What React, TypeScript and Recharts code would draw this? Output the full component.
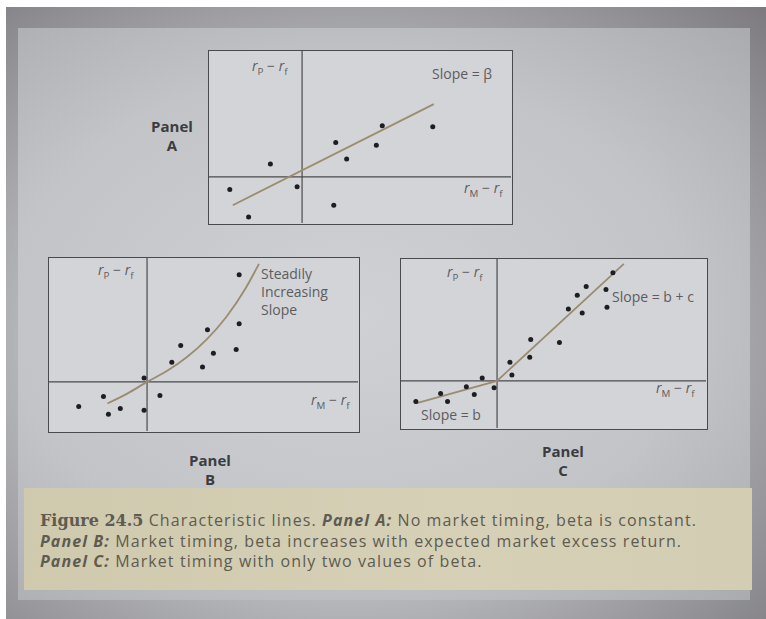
import React from "react"
import { ComposedChart, Scatter, Line, XAxis, YAxis, ReferenceLine } from "recharts"

type Pt = { x: number; y: number }

// Panel A: no market timing, constant beta
const dotsA: Pt[] = [
  { x: -7.3, y: -1.3 },
  { x: -5.4, y: -4.1 },
  { x: -3.2, y: 1.3 },
  { x: -0.5, y: -1.0 },
  { x: 3.2, y: -2.9 },
  { x: 3.4, y: 3.5 },
  { x: 4.5, y: 1.8 },
  { x: 7.5, y: 3.2 },
  { x: 8.1, y: 5.2 },
  { x: 13.2, y: 5.1 },
]
const lineA: Pt[] = [
  { x: -7.0, y: -2.9 },
  { x: 13.3, y: 7.4 },
]

// Panel B: beta rises with market excess return
const dotsB: Pt[] = [
  { x: -6.9, y: -2.5 },
  { x: -4.4, y: -1.5 },
  { x: -3.9, y: -3.3 },
  { x: -2.7, y: -2.7 },
  { x: -0.3, y: -2.9 },
  { x: -0.3, y: 0.4 },
  { x: 1.3, y: -1.4 },
  { x: 2.5, y: 2.0 },
  { x: 3.4, y: 3.7 },
  { x: 5.6, y: 1.5 },
  { x: 6.1, y: 5.3 },
  { x: 6.7, y: 2.9 },
  { x: 9.0, y: 3.3 },
  { x: 9.3, y: 5.9 },
  { x: 9.3, y: 10.9 },
]
const curveB: Pt[] = [
  { x: -4.0, y: -2.2 },
  { x: -2.0, y: -1.2 },
  { x: 0, y: 0 },
  { x: 2.0, y: 1.1 },
  { x: 4.0, y: 2.5 },
  { x: 6.0, y: 4.3 },
  { x: 8.0, y: 6.6 },
  { x: 10.0, y: 9.6 },
  { x: 11.3, y: 12.0 },
]

// Panel C: two values of beta
const dotsC: Pt[] = [
  { x: -8.2, y: -2.1 },
  { x: -5.7, y: -1.3 },
  { x: -5.0, y: -2.1 },
  { x: -3.1, y: -0.6 },
  { x: -2.3, y: -1.4 },
  { x: -1.5, y: 0.3 },
  { x: -0.3, y: -0.7 },
  { x: 1.3, y: 1.9 },
  { x: 1.5, y: 0.6 },
  { x: 3.4, y: 4.2 },
  { x: 3.3, y: 2.4 },
  { x: 6.3, y: 3.9 },
  { x: 7.2, y: 7.3 },
  { x: 8.1, y: 8.7 },
  { x: 8.6, y: 6.9 },
  { x: 9.0, y: 9.6 },
  { x: 11.0, y: 9.3 },
  { x: 11.1, y: 7.5 },
  { x: 11.7, y: 11.0 },
]
const lineC: Pt[] = [
  { x: -8.2, y: -2.3 },
  { x: 0, y: 0 },
  { x: 12.8, y: 11.9 },
]

const ink = "#4a4a4c"
const labelColor = "#5c5c60"
const curveColor = "#9a8c70"
const font = "'Open Sans', 'DejaVu Sans', sans-serif"

const dot = (p: any) => <circle cx={p.cx} cy={p.cy} r={2.5} fill="#1e1e22" />

type PanelProps = {
  left: number
  top: number
  width: number
  height: number
  xDomain: [number, number]
  yDomain: [number, number]
  dots: Pt[]
  line: Pt[]
  curved?: boolean
}

function Panel({ left, top, width, height, xDomain, yDomain, dots, line, curved }: PanelProps) {
  return (
    <div
      style={{
        position: "absolute",
        left,
        top,
        width,
        height,
        border: `1.5px solid ${ink}`,
        boxSizing: "border-box",
        background: "#d3d4d7",
      }}
    >
      <ComposedChart width={width - 3} height={height - 3} margin={{ top: 0, right: 0, bottom: 0, left: 0 }}>
        <XAxis type="number" dataKey="x" domain={xDomain} hide allowDataOverflow />
        <YAxis type="number" dataKey="y" domain={yDomain} hide allowDataOverflow />
        <ReferenceLine x={0} stroke={ink} strokeWidth={1.2} />
        <ReferenceLine y={0} stroke={ink} strokeWidth={1.2} />
        <Line
          data={line}
          dataKey="y"
          type={curved ? "monotone" : "linear"}
          stroke={curveColor}
          strokeWidth={1.8}
          dot={false}
          isAnimationActive={false}
        />
        <Scatter data={dots} dataKey="y" shape={dot} isAnimationActive={false} />
      </ComposedChart>
    </div>
  )
}

const Txt = ({ x, y, children, size = 14, color = labelColor }: any) => (
  <div
    style={{
      position: "absolute",
      left: x,
      top: y,
      fontSize: size,
      color,
      lineHeight: 1.2,
      whiteSpace: "nowrap",
    }}
  >
    {children}
  </div>
)

const rp = (
  <span>
    <i>r</i>
    <sub style={{ fontSize: "0.7em" }}>P</sub> − <i>r</i>
    <sub style={{ fontSize: "0.7em" }}>f</sub>
  </span>
)
const rm = (
  <span>
    <i>r</i>
    <sub style={{ fontSize: "0.7em" }}>M</sub> − <i>r</i>
    <sub style={{ fontSize: "0.7em" }}>f</sub>
  </span>
)

const PanelLabel = ({ x, y, letter }: any) => (
  <div
    style={{
      position: "absolute",
      left: x - 35,
      top: y,
      width: 70,
      textAlign: "center",
      fontSize: 15,
      fontWeight: 700,
      color: "#3c3c40",
      lineHeight: "19px",
    }}
  >
    Panel
    <br />
    {letter}
  </div>
)

export default function App() {
  return (
    <div
      style={{
        position: "absolute",
        left: 0,
        top: 0,
        width: 766,
        height: 619,
        background: "#ffffff",
        fontFamily: font,
        overflow: "hidden",
      }}
    >
      <div
        style={{
          position: "absolute",
          left: 6,
          top: 7,
          width: 760,
          height: 612,
          background: "radial-gradient(ellipse at 45% 55%, #c9cacd 0%, #b4b5b9 55%, #7c7a7e 100%)",
        }}
      />
      <div
        style={{
          position: "absolute",
          left: 18,
          top: 28,
          width: 732,
          height: 572,
          background: "radial-gradient(ellipse at 45% 50%, #d0d1d4 0%, #c3c4c8 60%, #aaabaf 100%)",
        }}
      />

      <Panel left={208} top={50} width={305} height={175} xDomain={[-9.4, 21.1]} yDomain={[-4.7, 12.8]} dots={dotsA} line={lineA} />
      <Panel left={48} top={257} width={312} height={176} xDomain={[-9.9, 21.3]} yDomain={[-5.0, 12.6]} dots={dotsB} line={curveB} curved />
      <Panel left={400} top={258} width={308} height={172} xDomain={[-9.7, 21.1]} yDomain={[-4.8, 12.4]} dots={dotsC} line={lineC} />

      {/* Panel A annotations */}
      <Txt x={252} y={58}>{rp}</Txt>
      <Txt x={432} y={66}>Slope = β</Txt>
      <Txt x={464} y={180}>{rm}</Txt>

      {/* Panel B annotations */}
      <Txt x={98} y={262}>{rp}</Txt>
      <div style={{ position: "absolute", left: 261, top: 265, fontSize: 14, color: labelColor, lineHeight: "18px" }}>
        Steadily
        <br />
        Increasing
        <br />
        Slope
      </div>
      <Txt x={311} y={392}>{rm}</Txt>

      {/* Panel C annotations */}
      <Txt x={447} y={264}>{rp}</Txt>
      <Txt x={612} y={289}>Slope = b + c</Txt>
      <Txt x={421} y={407}>Slope = b</Txt>
      <Txt x={656} y={380}>{rm}</Txt>

      <PanelLabel x={172} y={117} letter="A" />
      <PanelLabel x={210} y={451} letter="B" />
      <PanelLabel x={563} y={442} letter="C" />

      {/* Caption */}
      <div
        style={{
          position: "absolute",
          left: 24,
          top: 488,
          width: 728,
          height: 102,
          background: "linear-gradient(90deg, #cfc9ae 0%, #d6d0b6 60%, #d3cdb4 100%)",
        }}
      />
      <div
        style={{
          position: "absolute",
          left: 40,
          top: 510,
          fontSize: 16,
          letterSpacing: 1.1,
          color: "#5e5b50",
          lineHeight: "20px",
          whiteSpace: "nowrap",
        }}
      >
        <span style={{ fontFamily: "'DejaVu Serif', serif", fontWeight: 700, letterSpacing: 0 }}>Figure 24.5</span>
        {"  "}Characteristic lines. <b><i>Panel A:</i></b> No market timing, beta is constant.
        <br />
        <b><i>Panel B:</i></b> Market timing, beta increases with expected market excess return.
        <br />
        <b><i>Panel C:</i></b> Market timing with only two values of beta.
      </div>
    </div>
  )
}
